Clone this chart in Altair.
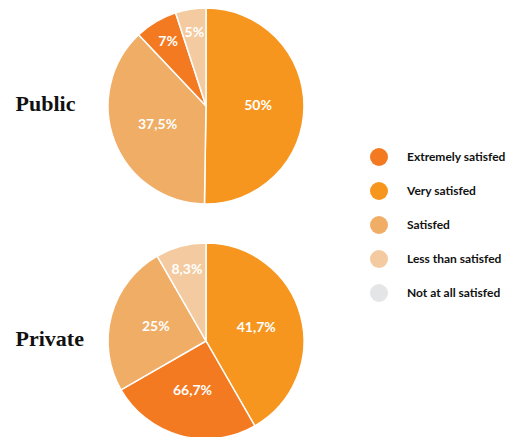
import math
import altair as alt
import pandas as pd

sectors = ["Public", "Public", "Public", "Public",
           "Private", "Private", "Private", "Private"]
categories = ["Very satisfed", "Satisfed", "Extremely satisfed", "Less than satisfed",
              "Very satisfed", "Extremely satisfed", "Satisfed", "Less than satisfed"]
values = [50, 37.5, 7, 5, 41.7, 25, 25, 8.3]
labels = ["50%", "37,5%", "7%", "5%", "41,7%", "66,7%", "25%", "8,3%"]
slice_order = [1, 2, 3, 4, 1, 2, 3, 4]

legend_domain = ["Extremely satisfed", "Very satisfed", "Satisfed",
                 "Less than satisfed", "Not at all satisfed"]
legend_colors = ["#F47A22", "#F7961E", "#F0AD66", "#F4CBA0", "#E4E5E7"]

df = pd.DataFrame({
    "sector": sectors,
    "category": categories,
    "value": values,
    "label": labels,
    "ord": slice_order,
})

theta_scale = alt.Scale(domain=[0, 1], range=[0, 2 * math.pi])
y_enc = alt.Y(
    "sector:N",
    scale=alt.Scale(type="point", domain=["Public", "Private"], range=[106, 341], padding=0),
    axis=alt.Axis(
        title=None,
        domain=False,
        ticks=False,
        grid=False,
        labelFont="Liberation Serif",
        labelFontWeight="bold",
        labelFontSize=22,
        labelColor="#111111",
        labelAlign="left",
        labelPadding=65,
        labelOffset=-3,
    ),
)

base = alt.Chart(df).transform_window(
    cum="sum(value)", groupby=["sector"], sort=[alt.SortField("ord")], frame=[None, 0]
).transform_joinaggregate(
    total="sum(value)", groupby=["sector"]
).transform_calculate(
    t0="(datum.cum - datum.value) / datum.total",
    t1="datum.cum / datum.total",
).transform_calculate(
    tm="(datum.t0 + datum.t1) / 2",
    lr="datum.value < 10 ? 74 : 52",
)

arcs = base.mark_arc(radius=98, stroke="white", strokeWidth=1.5).encode(
    x=alt.value(126),
    y=y_enc,
    theta=alt.Theta("t0:Q", scale=theta_scale, stack=False),
    theta2="t1:Q",
    color=alt.Color(
        "category:N",
        scale=alt.Scale(domain=legend_domain, range=legend_colors),
        legend=alt.Legend(
            title=None,
            orient="none",
            legendX=290,
            legendY=148,
            symbolType="circle",
            symbolSize=324,
            symbolStrokeWidth=0,
            rowPadding=16,
            labelOffset=19,
            labelFont="Lato",
            labelFontWeight="bold",
            labelFontSize=12,
            labelColor="#111111",
            padding=0,
        ),
    ),
)

texts = base.mark_text(
    font="Lato", fontWeight="bold", fontSize=14, color="white"
).encode(
    x=alt.value(126),
    y=alt.Y("sector:N"),
    theta=alt.Theta("tm:Q", scale=theta_scale, stack=False),
    radius=alt.Radius("lr:Q", scale=None),
    text="label:N",
)

chart = alt.layer(arcs, texts).properties(
    width=429,
    height=437,
    padding={"left": 80, "top": 0, "right": 0, "bottom": 0},
    autosize=alt.AutoSizeParams(type="none"),
).configure_view(stroke=None)

chart.save("out.html", embed_options={"renderer": "svg", "actions": False})
